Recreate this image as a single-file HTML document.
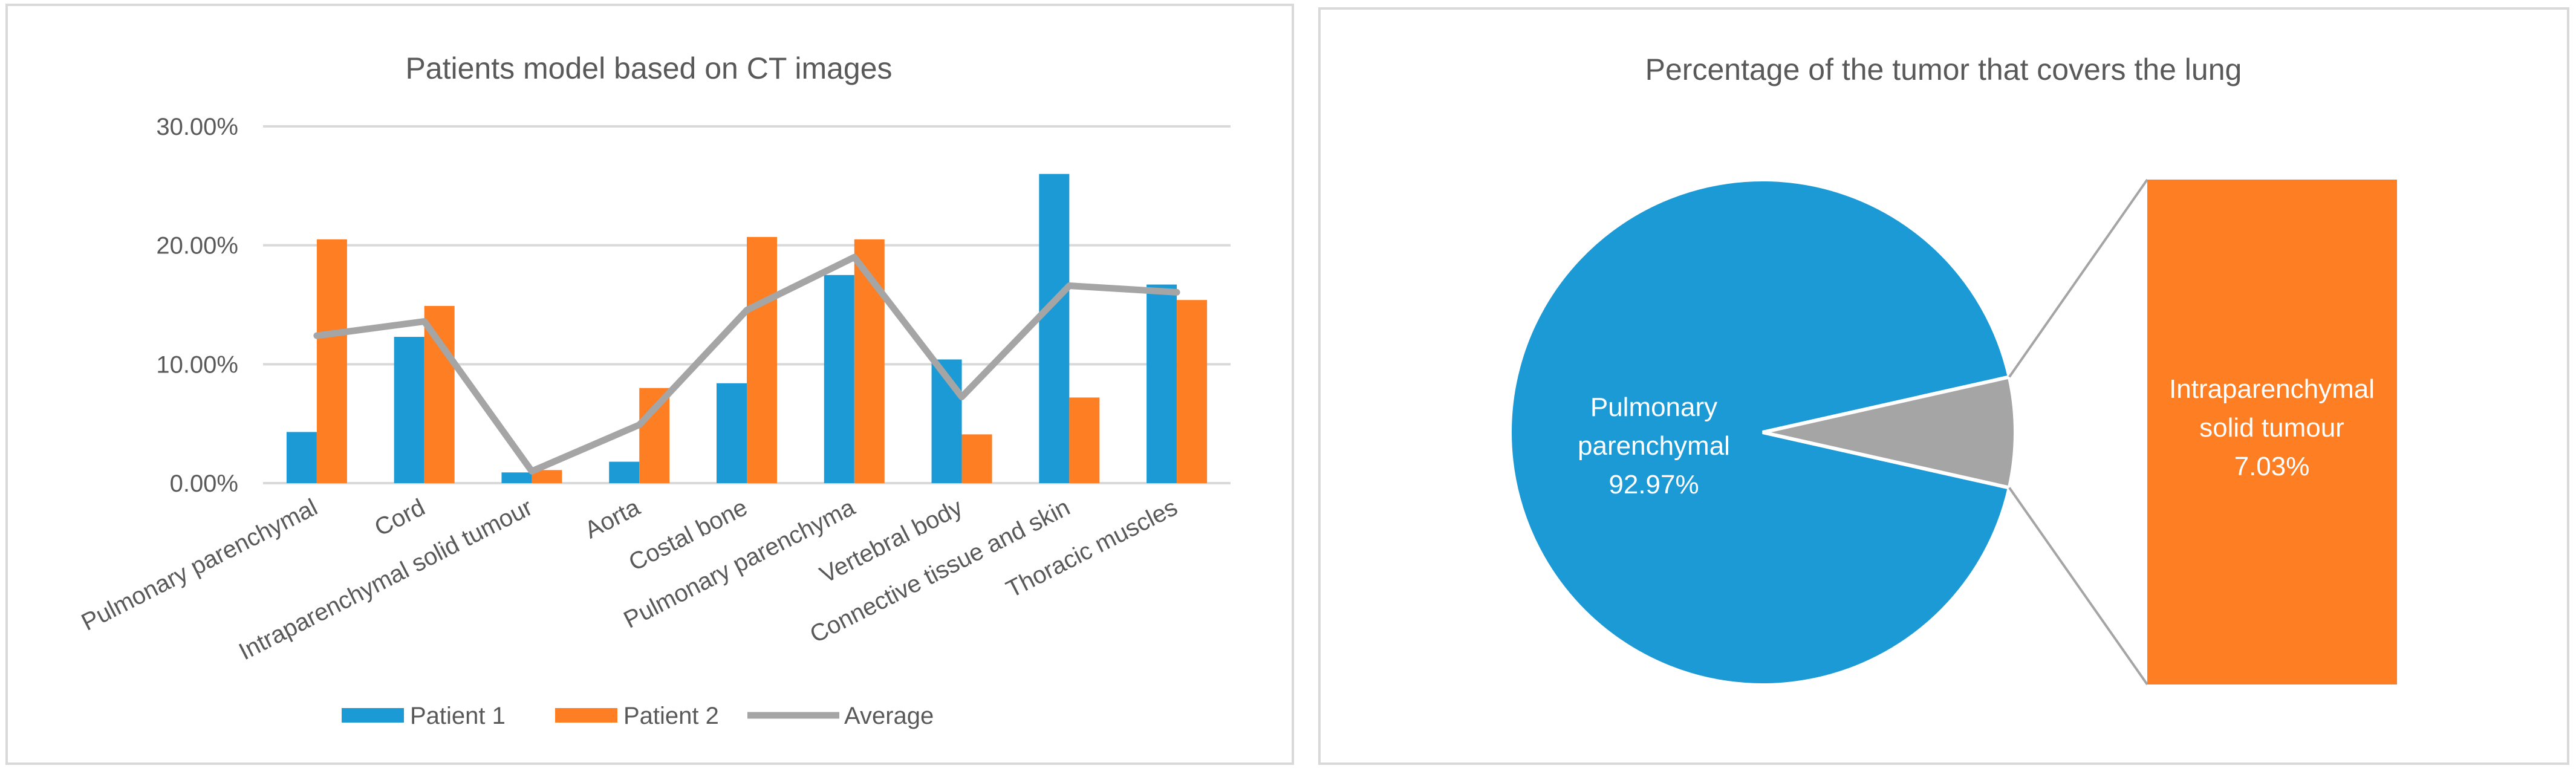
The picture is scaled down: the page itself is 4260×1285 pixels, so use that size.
<!DOCTYPE html>
<html><head><meta charset="utf-8"><style>
body{margin:0;background:#fff;}
svg{display:block;font-family:"Liberation Sans",sans-serif;}
</style></head><body>
<svg id="c" width="4260" height="1285" viewBox="0 0 4260 1285">
<rect x="11" y="8" width="2127" height="1255" fill="#fff" stroke="#d9d9d9" stroke-width="4"/>
<rect x="2182" y="14" width="2065" height="1249" fill="#fff" stroke="#d9d9d9" stroke-width="4"/>
<text x="1073" y="130" font-size="50" fill="#595959" text-anchor="middle">Patients model based on CT images</text>
<text x="3214" y="132" font-size="50" fill="#595959" text-anchor="middle">Percentage of the tumor that covers the lung</text>
<g id="bars"></g>
<g id="pie"></g>
<g>
<rect x="565" y="1171" width="103" height="24" fill="#1b9ad6"/>
<text x="678" y="1197" font-size="40" fill="#595959">Patient 1</text>
<rect x="918" y="1171" width="103" height="24" fill="#fd7e23"/>
<text x="1031" y="1197" font-size="40" fill="#595959">Patient 2</text>
<line x1="1236" y1="1183" x2="1388" y2="1183" stroke="#a5a5a5" stroke-width="11"/>
<text x="1396" y="1197" font-size="40" fill="#595959">Average</text>
</g>
</svg>
<script>
const categories=["Pulmonary parenchymal","Cord","Intraparenchymal solid tumour","Aorta","Costal bone","Pulmonary parenchyma","Vertebral body","Connective tissue and skin","Thoracic muscles"];
const patient1=[4.3,12.3,0.9,1.8,8.4,17.5,10.4,26.0,16.7];
const patient2=[20.5,14.9,1.1,8.0,20.7,20.5,4.1,7.2,15.4];
const average=[12.4,13.6,1.0,4.9,14.55,19.0,7.25,16.6,16.05];
const yTicks=[0,10,20,30];
const yTickLabels=["0.00%","10.00%","20.00%","30.00%"];
const pieLabels=["Pulmonary parenchymal","Intraparenchymal solid tumour"];
const pieValues=[92.97,7.03];

const NS="http://www.w3.org/2000/svg";
function mk(t,a,p){const e=document.createElementNS(NS,t);for(const k in a)e.setAttribute(k,a[k]);p.appendChild(e);return e;}
const X0=435,X1=2035,Y0=799,Y30=209;
const y=v=>Y0-(v/30)*(Y0-Y30);
const bw=(X1-X0)/categories.length;
const cx=i=>X0+bw*(i+0.5);
const g=document.getElementById('bars');
yTicks.forEach((t,i)=>{
  const l=mk('line',{x1:X0,x2:X1,y1:y(t),y2:y(t),stroke:'#d9d9d9','stroke-width':4},g);
  
  
  const tx=mk('text',{x:394,y:y(t)+14,'font-size':40,fill:'#595959','text-anchor':'end'},g);
  tx.textContent=yTickLabels[i];
  
  
});
const barW=50;
categories.forEach((c,i)=>{
  const b1=mk('rect',{x:cx(i)-barW,y:y(patient1[i]),width:barW,height:Y0-y(patient1[i]),fill:'#1b9ad6'},g);
  
  
  const b2=mk('rect',{x:cx(i),y:y(patient2[i]),width:barW,height:Y0-y(patient2[i]),fill:'#fd7e23'},g);
  
  
  const t=mk('text',{x:0,y:0,'font-size':40,fill:'#595959','text-anchor':'end',transform:`translate(${cx(i)+4},${848}) rotate(-27)`},g);
  t.textContent=c;
  
  
});
const pl=mk('polyline',{points:average.map((v,i)=>cx(i)+','+y(v)).join(' '),fill:'none',stroke:'#a5a5a5','stroke-width':11,'stroke-linejoin':'round','stroke-linecap':'round'},g);



const p=document.getElementById('pie');
const PX=2915,PY=715,R=418;
const tot=pieValues.reduce((a,b)=>a+b,0);
const half=Math.PI*pieValues[1]/tot;
const pt=a=>[PX+R*Math.cos(a),PY-R*Math.sin(a)];
const [ax,ay]=pt(half),[bx,by]=pt(-half);
const big=mk('path',{d:`M${PX},${PY} L${ax},${ay} A${R},${R} 0 1 0 ${bx},${by} Z`,fill:'#1b9ad6',stroke:'#fff','stroke-width':6},p);


const sm=mk('path',{d:`M${PX},${PY} L${ax},${ay} A${R},${R} 0 0 1 ${bx},${by} Z`,fill:'#a5a5a5',stroke:'#fff','stroke-width':6},p);


const BX=3551,BT=297,BB=1132,BW=413;
const l1=mk('line',{x1:ax,y1:ay,x2:BX,y2:BT,stroke:'#a5a5a5','stroke-width':4},p);


const l2=mk('line',{x1:bx,y1:by,x2:BX,y2:BB,stroke:'#a5a5a5','stroke-width':4},p);


const ob=mk('rect',{x:BX,y:BT,width:BW,height:BB-BT,fill:'#fd7e23'},p);


function lbl(lines,x,y0,name){
  const t=mk('text',{x:x,y:y0,'font-size':44,fill:'#fff','text-anchor':'middle'},p);
  
  
  lines.forEach((s,i)=>{const ts=mk('tspan',{x:x,dy:i?64:0},t);ts.textContent=s;});
}
lbl(["Pulmonary","parenchymal",pieValues[0].toFixed(2)+"%"],2735,688,'pie-label-pulmonary');
lbl(["Intraparenchymal","solid tumour",pieValues[1].toFixed(2)+"%"],3757,658,'pie-label-tumour');
</script>
</body></html>
